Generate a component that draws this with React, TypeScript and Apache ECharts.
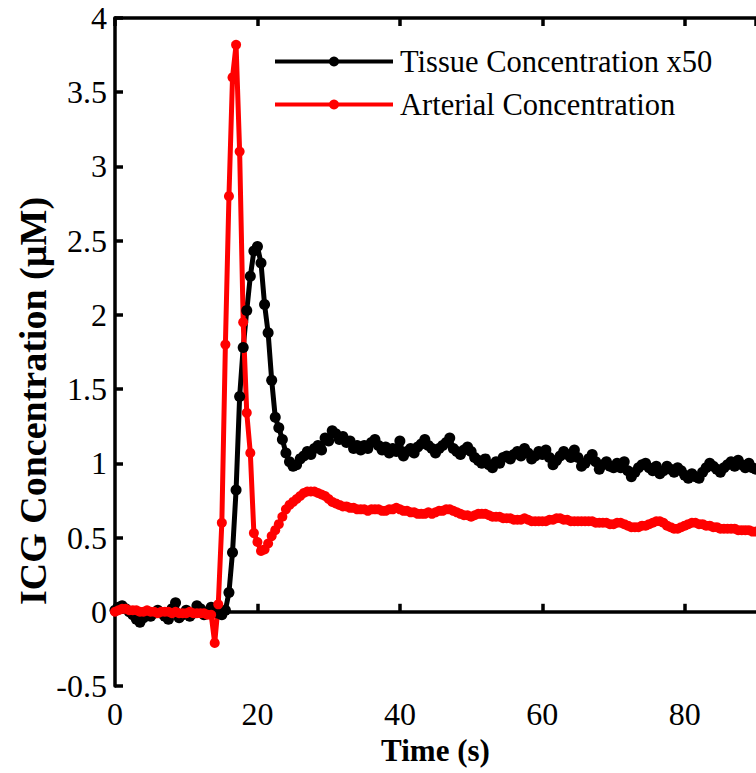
import React, { useEffect, useRef } from "react";
import * as echarts from "echarts";

// Sampling interval of the recordings, in seconds
const timeStep = 0.5;

// Tissue concentration (x50), µM, sampled every 0.5 s from t = 0 s to 90 s
const tissue = [
  0.01, 0.03, 0.04, 0.02, 0.00, -0.02, -0.05, -0.07, -0.04, -0.02,
  -0.03, -0.01, 0.01, -0.01, -0.03, -0.05, 0.02, 0.06, -0.04, -0.02,
  0.01, -0.03, -0.01, 0.04, 0.02, -0.02, 0.00, 0.03, 0.02, -0.01,
  -0.02, 0.01, 0.13, 0.40, 0.82, 1.45, 1.78, 2.03, 2.26, 2.43,
  2.46, 2.35, 2.07, 1.88, 1.56, 1.31, 1.24, 1.16, 1.07, 1.01,
  0.98, 0.99, 1.03, 1.05, 1.08, 1.06, 1.10, 1.12, 1.09, 1.17,
  1.15, 1.22, 1.20, 1.16, 1.18, 1.14, 1.15, 1.10, 1.12, 1.09,
  1.12, 1.10, 1.14, 1.16, 1.12, 1.09, 1.11, 1.07, 1.10, 1.08,
  1.15, 1.05, 1.08, 1.10, 1.07, 1.11, 1.13, 1.16, 1.12, 1.10,
  1.07, 1.10, 1.12, 1.14, 1.17, 1.10, 1.08, 1.06, 1.09, 1.11,
  1.08, 1.04, 1.02, 1.00, 1.03, 0.99, 0.97, 1.01, 1.00, 1.04,
  1.05, 1.03, 1.06, 1.08, 1.05, 1.10, 1.07, 1.03, 1.05, 1.08,
  1.06, 1.09, 1.04, 0.99, 1.02, 1.05, 1.08, 1.06, 1.04, 1.09,
  1.04, 0.98, 1.00, 1.03, 1.06, 1.01, 0.96, 0.99, 1.01, 0.98,
  0.97, 1.00, 0.97, 1.01, 0.95, 0.91, 0.94, 0.97, 0.99, 1.00,
  0.97, 0.95, 0.98, 0.93, 0.95, 0.98, 0.96, 0.94, 0.97, 0.95,
  0.92, 0.90, 0.93, 0.91, 0.90, 0.94, 0.97, 1.00, 0.98, 0.96,
  0.94, 0.97, 0.99, 1.01, 0.98, 1.02, 0.99, 0.97, 1.00, 0.97,
  0.96,
];

// Arterial concentration, µM, sampled every 0.5 s from t = 0 s to 90 s
const arterial = [
  0.00, 0.01, 0.02, 0.02, 0.01, 0.01, 0.01, 0.00, 0.00, 0.01,
  0.00, 0.00, -0.01, 0.00, 0.00, 0.00, -0.01, 0.00, -0.01, -0.01,
  -0.01, 0.00, -0.01, -0.01, -0.01, -0.01, -0.02, -0.02, -0.21, 0.05,
  0.60, 1.80, 2.80, 3.60, 3.82, 3.10, 1.95, 1.34, 1.07, 0.53,
  0.47, 0.41, 0.42, 0.46, 0.51, 0.55, 0.59, 0.64, 0.69, 0.72,
  0.74, 0.76, 0.78, 0.80, 0.81, 0.81, 0.81, 0.80, 0.79, 0.78,
  0.76, 0.74, 0.73, 0.72, 0.71, 0.71, 0.70, 0.70, 0.69, 0.69,
  0.69, 0.68, 0.69, 0.69, 0.69, 0.68, 0.68, 0.69, 0.69, 0.70,
  0.69, 0.68, 0.68, 0.67, 0.67, 0.66, 0.66, 0.66, 0.67, 0.66,
  0.67, 0.68, 0.68, 0.69, 0.69, 0.68, 0.67, 0.66, 0.65, 0.65,
  0.64, 0.65, 0.66, 0.66, 0.66, 0.65, 0.64, 0.64, 0.64, 0.63,
  0.63, 0.63, 0.62, 0.62, 0.62, 0.63, 0.62, 0.61, 0.61, 0.61,
  0.61, 0.61, 0.62, 0.62, 0.63, 0.63, 0.62, 0.62, 0.61, 0.61,
  0.61, 0.61, 0.61, 0.61, 0.61, 0.60, 0.60, 0.60, 0.60, 0.59,
  0.59, 0.60, 0.60, 0.59, 0.58, 0.57, 0.57, 0.57, 0.58, 0.58,
  0.59, 0.60, 0.61, 0.61, 0.60, 0.58, 0.57, 0.56, 0.56, 0.57,
  0.58, 0.59, 0.60, 0.60, 0.59, 0.59, 0.58, 0.58, 0.57, 0.57,
  0.56, 0.56, 0.56, 0.56, 0.56, 0.55, 0.55, 0.55, 0.55, 0.54,
  0.54,
];

const seriesNames = ["Tissue Concentration x50", "Arterial Concentration"];
const xTitle = "Time (s)";
const yTitle = "ICG Concentration (µM)";

const FONT = "'Liberation Serif', 'Times New Roman', serif";

export default function App() {
  const ref = useRef<HTMLDivElement>(null);

  useEffect(() => {
    if (!ref.current) return;
    const chart = echarts.init(ref.current, null, { renderer: "svg" });
    const toPairs = (vals: number[]) => vals.map((v, i) => [i * timeStep, v]);

    const axisLine = { show: true, lineStyle: { color: "#000", width: 3.5 } };
    const axisTick = { show: true, inside: true, length: 8, lineStyle: { color: "#000", width: 3.5 } };

    chart.setOption({
      animation: false,
      backgroundColor: "#fff",
      grid: { left: 115, top: 18, width: 648, height: 668, containLabel: false },
      xAxis: [
        {
          type: "value",
          position: "bottom",
          min: 0,
          max: 90,
          interval: 20,
          axisLine,
          axisTick,
          splitLine: { show: false },
          axisLabel: {
            color: "#000",
            fontFamily: FONT,
            fontSize: 32,
            margin: 12,
            showMaxLabel: false,
          },
          name: xTitle,
          nameLocation: "middle",
          nameGap: 45,
          nameTextStyle: { color: "#000", fontFamily: FONT, fontSize: 31, fontWeight: "bold" },
        },
        {
          type: "value",
          position: "top",
          min: 0,
          max: 90,
          interval: 20,
          axisLine,
          axisTick,
          splitLine: { show: false },
          axisLabel: { show: false },
        },
      ],
      yAxis: {
        type: "value",
        min: -0.5,
        max: 4,
        interval: 0.5,
        axisLine,
        axisTick,
        splitLine: { show: false },
        axisLabel: { color: "#000", fontFamily: FONT, fontSize: 32, margin: 8 },
      },
      legend: {
        orient: "vertical",
        left: 268,
        top: 41,
        itemWidth: 118,
        itemHeight: 12.5,
        itemGap: 12,
        data: seriesNames,
        lineStyle: { width: 4 },
        textStyle: { color: "#000", fontFamily: FONT, fontSize: 30.5, padding: [0, 0, 0, 2] },
      },
      graphic: [
        {
          type: "text",
          x: 33,
          y: 401,
          rotation: Math.PI / 2,
          style: {
            text: yTitle,
            fill: "#000",
            font: `bold 38px ${FONT}`,
            align: "center",
            verticalAlign: "middle",
          },
        },
      ],
      series: [
        {
          name: seriesNames[0],
          type: "line",
          data: toPairs(tissue),
          symbol: "circle",
          symbolSize: 11,
          showAllSymbol: true,
          lineStyle: { color: "#000", width: 5 },
          itemStyle: { color: "#000" },
        },
        {
          name: seriesNames[1],
          type: "line",
          data: toPairs(arterial),
          symbol: "circle",
          symbolSize: 10,
          showAllSymbol: true,
          lineStyle: { color: "#ff0000", width: 5 },
          itemStyle: { color: "#ff0000" },
        },
      ],
    });

    return () => chart.dispose();
  }, []);

  return (
    <div
      ref={ref}
      style={{ position: "fixed", left: 0, top: 0, width: 756, height: 773, background: "#fff" }}
    />
  );
}
